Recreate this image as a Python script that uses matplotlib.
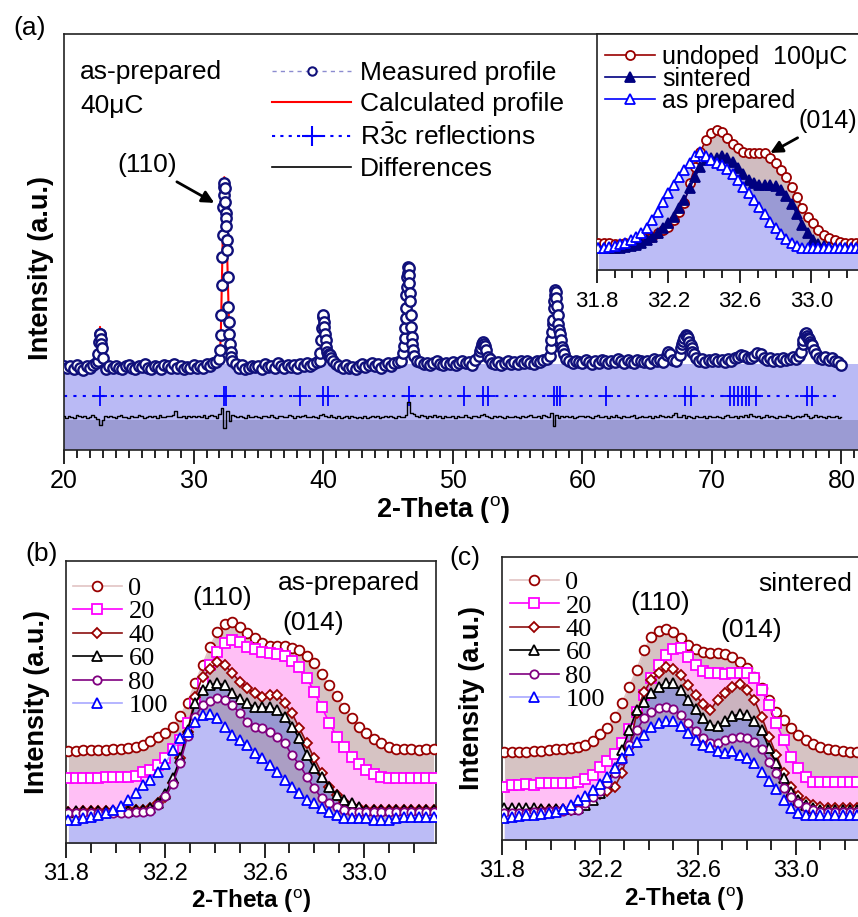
import numpy as np
import matplotlib.pyplot as plt
from matplotlib.lines import Line2D
from matplotlib.ticker import MultipleLocator, FixedLocator

plt.rcParams['font.family'] = ['Liberation Sans', 'DejaVu Sans']
plt.rcParams['mathtext.fontset'] = 'custom'
plt.rcParams['mathtext.rm'] = 'Liberation Sans'
plt.rcParams['mathtext.it'] = 'Liberation Sans:italic'
plt.rcParams['mathtext.bf'] = 'Liberation Sans:bold'

# ---------------- (a) full pattern, as-prepared 40 uC ----------------
# coarse scan, every 0.25 deg from 20 to 80 (intensity in a.u.)
coarse_start, coarse_step = 20.0, 0.25
coarse_int = [
    20.3, 19.6, 20.1, 19.4, 20.4, 19.8, 19.3, 20.2, 19.7, 20.5, 20.9, 27.9, 22.0, 19.5, 20.2, 19.6, 20.3, 19.8, 19.4, 20.1,
    20.5, 19.7, 19.5, 20.3, 19.9, 20.6, 19.6, 19.4, 20.2, 20.0, 19.5, 20.4, 20.1, 19.6, 20.7, 19.8, 20.3, 19.5, 20.0, 19.7,
    20.4, 19.6, 20.1, 19.8, 20.6, 20.3, 20.9, 21.2, 21.8, 51.6, 55.8, 28.0, 21.5, 20.7, 19.8, 20.4, 19.4, 19.7, 20.3, 19.9,
    20.2, 19.5, 20.6, 19.9, 20.3, 19.6, 20.8, 20.1, 19.7, 20.5, 19.9, 20.4, 19.8, 20.6, 20.2, 20.9, 20.3, 20.7, 21.2, 21.5,
    32.5, 24.8, 22.9, 21.3, 20.6, 20.1, 19.8, 20.4, 19.6, 20.0, 19.5, 20.3, 20.7, 19.9, 20.4, 21.0, 20.2, 20.6, 19.8, 20.5,
    20.9, 20.3, 20.8, 21.1, 21.4, 25.0, 41.7, 32.5, 22.5, 21.4, 21.2, 20.6, 21.0, 20.4, 20.9, 21.3, 20.7, 20.5, 21.0, 20.6,
    21.2, 20.5, 20.9, 21.4, 20.8, 21.1, 20.4, 21.6, 22.5, 25.6, 25.0, 22.4, 21.0, 20.6, 21.2, 20.5, 20.9, 21.3, 20.7, 21.1,
    20.6, 21.3, 20.9, 21.5, 21.0, 20.7, 21.4, 21.1, 21.6, 21.9, 22.6, 31.2, 36.5, 27.9, 24.0, 21.8, 21.3, 20.8, 21.5, 21.1,
    20.9, 21.6, 21.2, 20.7, 21.4, 21.0, 21.7, 21.3, 20.8, 21.5, 21.1, 21.8, 21.3, 20.9, 21.6, 21.2, 21.0, 21.7, 21.4, 21.1,
    21.5, 21.0, 21.8, 21.3, 21.7, 21.2, 22.8, 23.0, 21.6, 21.5, 22.8, 26.2, 27.6, 26.0, 23.6, 22.0, 21.4, 21.8, 21.2, 21.6,
    21.3, 21.9, 21.4, 21.7, 21.2, 21.8, 21.5, 22.0, 22.4, 22.9, 22.7, 22.2, 22.0, 22.6, 23.4, 23.0, 22.1, 21.6, 22.0, 21.5,
    21.8, 21.4, 22.1, 21.7, 21.9, 22.3, 21.8, 22.5, 25.5, 28.1, 26.8, 25.3, 23.0, 22.2, 21.8, 22.3, 21.6, 22.0, 21.4, 21.1,
    20.4,
]
# extra finely stepped points across the reflections
fine_tt = [22.6, 22.65, 22.7, 22.8, 22.85, 22.88, 22.92,
           32.06, 32.1, 32.14, 32.18, 32.22, 32.29, 32.32, 32.35, 32.38, 32.41, 32.44, 32.48, 32.53, 32.57,
           32.6, 32.64, 32.68, 32.72, 32.8, 32.85, 32.9,
           39.78, 39.84, 39.9, 39.95, 40.05, 40.1, 40.15, 40.2, 40.32, 40.4, 40.45, 40.58,
           46.18, 46.28, 46.32, 46.36, 46.4, 46.43, 46.46, 46.53, 46.56, 46.59, 46.62, 46.65, 46.68, 46.71,
           46.78, 46.82, 46.86, 46.92,
           52.1, 52.15, 52.35, 52.45, 52.6, 52.85,
           57.55, 57.62, 57.67, 57.72, 57.8, 57.84, 57.88, 57.92, 57.96, 58.05, 58.1, 58.15, 58.2, 58.32, 58.4, 58.6,
           66.6, 67.6, 67.7, 67.85, 68.1, 68.15, 68.35, 68.45, 68.6,
           76.9, 77.05, 77.15, 77.35, 77.45, 77.6, 77.65, 77.85]
fine_int = [21.5, 23.0, 26.0, 27.8, 26.8, 25.6, 24.4,
            24.0, 27.6, 32.5, 39.7, 46.5, 58.5, 61.3, 63.3, 64.1, 62.9, 59.7, 56.9, 53.9, 50.5,
            48.1, 41.7, 34.4, 30.8, 25.6, 23.6, 22.4,
            23.2, 26.4, 29.3, 32.0, 30.8, 29.6, 28.0, 26.4, 23.5, 22.8, 23.0, 22.0,
            23.2, 26.9, 29.3, 31.7, 34.1, 37.3, 39.3, 42.5, 44.1, 43.7, 42.1, 40.1, 37.7, 35.7,
            29.6, 27.2, 25.6, 24.0,
            23.8, 24.5, 26.0, 25.5, 24.0, 21.8,
            24.4, 26.4, 28.4, 30.4, 34.1, 35.7, 37.3, 38.5, 38.0, 34.5, 32.5, 30.4, 28.8, 26.4, 24.8, 23.0,
            23.5, 24.5, 25.5, 27.0, 27.4, 27.0, 25.2, 24.4, 23.0,
            23.5, 26.5, 27.8, 27.5, 26.9, 26.0, 25.6, 24.0]

calc_tt = [20.0, 22.5, 22.65, 22.78, 22.9, 23.1, 26.0, 29.0, 31.9, 32.0, 32.1, 32.2, 32.3, 32.37, 32.45,
           32.55, 32.65, 32.75, 32.85, 33.0, 36.0, 39.6, 39.8, 39.97, 40.05, 40.2, 40.4, 40.5, 40.7,
           43.0, 46.0, 46.2, 46.35, 46.5, 46.57, 46.65, 46.8, 46.95, 47.1, 47.3, 50.0, 51.8, 52.1, 52.3,
           52.5, 52.7, 53.0, 55.0, 57.3, 57.6, 57.8, 57.93, 58.1, 58.3, 58.5, 58.8, 59.0, 63.0, 66.3,
           66.6, 66.9, 67.2, 67.6, 67.95, 68.3, 68.7, 69.0, 72.3, 72.6, 73.0, 73.5, 74.0, 76.7, 77.0,
           77.25, 77.5, 77.7, 78.0, 78.4, 80.0]
calc_int = [20.0, 20.1, 22.5, 29.6, 24.5, 20.2, 20.2, 20.3, 20.5, 21.5, 27.5, 43.0, 60.0, 65.6, 60.0,
            52.0, 40.0, 28.5, 23.0, 20.6, 20.4, 20.5, 24.0, 33.2, 31.5, 26.5, 23.0, 23.0, 20.7,
            20.5, 20.8, 23.0, 30.0, 42.0, 44.8, 41.0, 29.0, 23.5, 21.3, 20.8, 20.9, 21.0, 23.5, 26.2,
            25.2, 22.8, 21.0, 21.0, 21.2, 25.0, 34.0, 39.0, 32.5, 27.0, 24.0, 21.8, 21.3, 21.3, 21.4,
            22.8, 21.5, 21.5, 23.8, 28.0, 25.5, 22.2, 21.5, 22.6, 22.8, 22.0, 23.2, 21.8, 21.9, 25.2,
            28.9, 26.6, 25.5, 22.6, 21.9, 21.2]

# difference curve (offset), every 0.2 deg
diff_start, diff_step = 20.0, 0.2
diff_int = [
    8.1, 7.8, 8.2, 8.0, 7.7, 8.3, 8.1, 7.9, 8.2, 7.8, 8.0, 8.4, 7.9, 7.4, 6.0, 7.2, 8.1, 7.9, 8.2, 8.0, 7.7, 8.1, 8.3, 7.9, 8.0,
    7.8, 8.2, 8.0, 7.9, 8.3, 8.1, 7.7, 8.0, 8.2, 7.9, 8.1, 7.8, 8.3, 8.0, 7.9, 8.2, 8.1, 8.3, 9.4, 7.9, 8.0, 8.2, 7.8, 8.1, 8.0,
    8.1, 7.9, 8.2, 8.0, 8.3, 7.8, 8.1, 8.4, 8.2, 7.6, 8.6, 10.2, 5.3, 9.3, 7.0, 8.3, 8.2, 7.9, 8.1, 8.0, 7.8, 8.3, 8.0, 7.9, 8.2,
    8.0, 7.8, 8.2, 8.1, 7.9, 8.3, 8.0, 7.7, 8.1, 8.2, 7.9, 8.0, 8.4, 8.1, 7.8, 8.2, 7.9, 8.1, 8.3, 8.0, 7.9, 8.2, 8.0, 7.8, 8.4,
    8.6, 8.1, 7.9, 8.3, 8.0, 7.8, 8.2, 7.7, 8.0, 8.1, 7.8, 8.2, 7.9, 7.6, 8.0, 7.8, 8.1, 7.7, 8.0, 8.2, 7.9, 8.1, 7.8, 8.0, 8.2,
    7.9, 8.1, 8.0, 7.8, 8.2, 8.0, 7.9, 8.4, 11.5, 9.0, 8.6, 8.2, 7.9, 8.3, 8.1, 7.8, 8.2, 8.0, 8.3, 7.9, 8.1, 7.8, 8.2, 8.0, 7.9,
    8.1, 7.8, 8.2, 8.0, 7.9, 8.3, 8.0, 7.8, 8.2, 8.1, 7.9, 8.4, 8.7, 8.1, 8.0, 7.8, 8.2, 7.9, 8.1, 8.0, 7.8, 8.2, 8.0, 7.9, 8.1,
    8.0, 7.8, 8.2, 7.9, 8.1, 8.3, 7.9, 8.0, 8.2, 7.8, 8.4, 8.2, 8.0, 8.9, 5.8, 8.3, 7.7, 8.1, 8.0, 8.2, 7.9, 8.1, 7.8, 8.0, 8.2,
    8.1, 7.9, 8.2, 8.0, 7.8, 8.1, 8.3, 7.9, 8.0, 8.2, 7.8, 8.1, 7.9, 8.3, 8.0, 7.8, 8.2, 8.0, 7.9, 8.1, 8.3, 7.8, 8.0, 8.2, 7.9,
    8.0, 8.2, 7.8, 8.1, 8.0, 8.3, 8.1, 7.9, 8.2, 8.0, 8.4, 8.8, 8.0, 7.9, 8.3, 7.7, 8.1, 8.0, 7.8, 8.2, 8.0, 7.9, 8.1, 7.8, 8.2,
    8.0, 7.9, 8.2, 8.0, 7.7, 8.1, 8.3, 7.9, 8.0, 8.2, 7.8, 8.1, 7.9, 8.3, 8.0, 8.7, 8.2, 7.9, 8.1, 7.8, 8.0, 8.3, 7.9, 8.1, 8.0,
    7.8, 8.2, 8.0, 7.9, 8.3, 8.1, 7.8, 8.0, 8.2, 7.9, 8.1, 8.7, 8.2, 7.8, 8.0, 8.3, 7.9, 8.1, 8.0, 7.8, 8.2, 8.0, 7.9, 8.1, 7.8,
    8.0,
]

refl_tt = [22.8, 32.38, 32.5, 38.2, 40.0, 40.4, 46.6, 50.85, 52.35, 52.7, 57.8, 58.05, 58.3, 61.85,
           67.9, 68.4, 71.4, 71.7, 72.0, 72.3, 72.6, 72.9, 73.4, 77.35, 77.7]
refl_level = 13.0
bg_level_light = 20.6
bg_level_dark = 7.2

legend_a = ['Measured profile', 'Calculated profile', r'$\mathrm{R\bar{3}c}$ reflections', 'Differences']

# ---------------- inset: 100 uC (110)/(014) region ----------------
zoom_start, zoom_step = 31.81, 0.03
inset_labels = ['undoped  100\u03bcC', 'sintered', 'as prepared']
inset_undoped = [11.3, 11.3, 11.3, 11.0, 11.0, 11.3, 11.6, 12.0, 12.7, 13.4,
                 14.1, 15.5, 16.9, 18.4, 21.2, 24.7, 28.2, 36.7, 43.8, 50.1,
                 55.1, 57.9, 59.3, 58.6, 55.8, 53.4, 51.6, 50.1, 49.7, 49.7,
                 49.7, 49.4, 47.3, 45.2, 42.4, 39.5, 35.3, 31.1, 26.1, 22.6,
                 19.8, 16.9, 14.8, 13.4, 12.7, 12.0, 11.6, 11.3, 11.3, 11.3]
inset_sintered = [9.2, 9.2, 9.2, 9.2, 9.4, 9.6, 10.0, 10.6, 11.3, 12.7,
                  14.1, 15.5, 17.7, 19.8, 22.6, 26.1, 29.7, 34.6, 39.5, 43.8,
                  46.6, 47.3, 47.6, 48.3, 47.3, 45.6, 43.1, 40.6, 38.1, 36.7,
                  36.0, 36.2, 36.2, 35.5, 33.9, 31.5, 27.9, 23.6, 19.1, 15.5,
                  12.7, 11.0, 10.2, 9.6, 9.2, 9.2, 9.2, 9.2, 9.2, 9.2]
inset_asprep = [9.2, 9.2, 9.6, 10.2, 10.9, 11.6, 12.7, 14.1, 15.8, 18.0,
                21.2, 24.7, 28.9, 32.5, 36.0, 39.5, 42.4, 45.2, 48.3, 50.1,
                48.3, 46.6, 45.2, 44.5, 42.7, 40.6, 38.1, 35.3, 32.5, 29.7,
                26.8, 23.6, 20.5, 17.7, 15.2, 13.0, 11.3, 10.2, 9.2, 9.2,
                9.2, 9.2, 9.2, 9.2, 9.2, 9.2, 9.2, 9.2, 9.2, 9.2]

# ---------------- (b) as-prepared, (c) sintered: dopant content ----------------
dopant = ['0', '20', '40', '60', '80', '100']
b_series = [
    [32.7, 32.8, 32.9, 33.0, 33.0, 33.1, 33.2, 33.4, 33.7, 34.1, 34.7, 36.0, 37.7, 39.1, 41.2, 45.1, 49.8, 56.6, 63.1, 69.6,
     74.9, 77.7, 78.5, 76.7, 74.6, 72.6, 70.8, 69.9, 69.9, 69.9, 69.3, 68.4, 66.4, 63.7, 59.9, 56.0, 52.1, 47.8, 44.2, 41.2,
     39.1, 36.8, 35.3, 33.9, 33.4, 33.2, 33.2, 33.1, 33.2, 33.2],
    [22.9, 22.9, 22.9, 22.9, 22.9, 23.3, 23.5, 23.5, 23.5, 23.8, 25.3, 26.0, 27.7, 30.0, 33.2, 36.5, 42.4, 49.5, 56.6, 63.1,
     67.8, 71.0, 72.0, 71.4, 69.4, 68.7, 67.8, 67.3, 67.1, 66.3, 64.6, 62.5, 58.4, 53.7, 48.1, 42.7, 37.7, 33.9, 30.6, 28.0,
     25.9, 24.5, 23.5, 23.0, 22.9, 22.9, 22.9, 22.9, 22.9, 22.9],
    [11.1, 11.1, 11.3, 11.3, 11.4, 11.4, 11.5, 11.6, 11.6, 11.7, 11.7, 12.3, 14.1, 16.4, 21.2, 30.0, 39.5, 51.9, 59.0, 61.6,
     64.3, 63.1, 60.2, 57.2, 54.9, 53.1, 51.9, 52.5, 52.5, 49.5, 46.0, 40.7, 35.4, 30.0, 24.7, 20.0, 17.0, 14.6, 13.1, 12.3,
     11.7, 11.7, 11.6, 11.7, 11.7, 11.6, 11.7, 11.7, 11.7, 11.7],
    [11.1, 11.2, 11.2, 11.3, 11.3, 11.4, 11.4, 11.5, 11.5, 11.6, 11.7, 12.5, 14.1, 17.5, 22.9, 30.0, 40.0, 49.5, 54.3, 56.0,
     56.6, 56.0, 53.1, 51.0, 49.5, 48.2, 48.2, 48.2, 47.2, 44.8, 41.2, 37.1, 31.2, 26.5, 23.5, 20.0, 17.0, 15.2, 14.1, 12.9,
     11.7, 11.7, 11.6, 11.7, 11.7, 11.7, 11.7, 11.7, 11.7, 11.7],
    [10.5, 10.5, 10.5, 10.6, 10.6, 10.7, 10.7, 10.8, 10.8, 10.9, 11.0, 11.5, 13.5, 16.5, 21.0, 28.5, 38.0, 44.8, 48.9, 50.5,
     51.3, 50.7, 48.9, 46.0, 43.0, 41.2, 40.7, 39.5, 37.7, 35.4, 31.2, 27.7, 23.5, 19.4, 15.8, 14.1, 12.9, 11.7, 11.1, 11.1,
     11.1, 11.0, 11.0, 11.1, 11.1, 11.1, 11.0, 11.1, 11.1, 11.1],
    [8.2, 8.2, 8.7, 9.3, 9.9, 10.5, 11.7, 13.1, 15.2, 17.6, 20.6, 22.3, 25.3, 28.0, 33.0, 37.1, 39.5, 43.0, 45.4, 45.9,
     44.2, 41.2, 38.3, 36.5, 34.8, 31.8, 30.0, 27.7, 25.3, 22.3, 19.7, 17.6, 15.2, 14.1, 12.3, 11.1, 9.9, 8.7, 8.7, 8.7,
     8.7, 8.2, 8.2, 8.2, 8.7, 9.3, 9.3, 9.3, 9.3, 9.3],
]
c_series = [
    [31.2, 31.2, 31.2, 31.2, 31.4, 31.6, 31.8, 32.0, 32.3, 32.5, 32.8, 33.6, 35.1, 37.5, 39.5, 43.6, 48.3, 54.2, 60.1, 67.1,
     71.8, 74.0, 74.5, 73.6, 71.3, 68.9, 67.4, 66.5, 66.2, 66.2, 65.9, 64.8, 63.0, 60.7, 57.7, 53.6, 49.5, 45.3, 42.4, 39.5,
     37.1, 35.3, 33.9, 32.8, 32.0, 31.8, 31.4, 31.2, 31.2, 31.2],
    [18.8, 19.4, 19.6, 19.8, 19.4, 20.0, 20.3, 20.0, 20.3, 20.3, 20.6, 21.5, 23.0, 25.9, 28.0, 30.4, 34.2, 39.1, 45.3, 51.2,
     57.1, 61.8, 65.4, 67.4, 67.7, 64.8, 61.8, 59.8, 58.9, 58.9, 58.7, 59.1, 58.9, 58.9, 57.1, 53.0, 47.7, 41.2, 35.3, 29.4,
     25.3, 22.4, 20.6, 20.6, 20.6, 20.6, 20.6, 20.6, 20.6, 20.6],
    [10.0, 10.0, 10.2, 10.3, 10.4, 10.5, 10.6, 10.6, 10.6, 10.6, 11.8, 13.5, 15.3, 16.3, 17.2, 18.8, 23.6, 33.0, 44.8, 52.4,
     56.5, 59.1, 61.2, 60.3, 58.3, 54.8, 51.2, 48.1, 45.9, 49.5, 52.0, 54.2, 55.1, 53.0, 49.5, 43.6, 36.5, 30.0, 23.6, 18.8,
     15.5, 13.5, 12.4, 11.8, 11.2, 11.2, 11.2, 11.2, 11.2, 11.2],
    [11.2, 11.2, 11.2, 11.2, 11.2, 11.0, 10.8, 10.8, 10.8, 11.0, 11.2, 12.4, 14.1, 16.5, 20.6, 25.3, 31.8, 38.9, 45.9, 48.9,
     51.8, 54.2, 55.6, 55.4, 53.0, 49.5, 46.2, 43.0, 40.6, 40.3, 42.2, 43.8, 44.5, 44.2, 42.2, 38.9, 32.4, 27.1, 21.8, 17.1,
     14.1, 12.4, 11.2, 10.6, 10.6, 10.6, 10.6, 10.6, 10.6, 10.6],
    [9.4, 9.4, 9.4, 9.6, 9.8, 10.0, 10.2, 10.3, 10.4, 10.5, 10.6, 13.0, 15.1, 17.4, 20.0, 23.6, 28.3, 33.6, 38.9, 43.0,
     45.3, 46.5, 47.1, 46.2, 44.2, 41.2, 38.6, 35.9, 34.2, 34.2, 35.3, 36.1, 36.5, 36.1, 34.7, 32.0, 27.7, 23.6, 18.3, 15.1,
     13.0, 11.8, 10.6, 10.0, 10.0, 10.0, 10.0, 10.0, 10.0, 10.0],
    [7.7, 8.2, 8.4, 8.7, 9.0, 9.1, 9.5, 10.0, 11.0, 12.2, 14.0, 15.5, 17.7, 19.8, 22.4, 25.3, 28.9, 31.8, 34.7, 37.1,
     40.0, 41.4, 42.2, 42.2, 40.3, 37.9, 35.3, 33.6, 32.8, 31.6, 30.9, 31.3, 30.0, 28.9, 27.1, 24.1, 21.0, 17.9, 14.1, 11.2,
     9.4, 8.8, 8.8, 8.8, 8.8, 8.8, 8.8, 8.8, 8.8, 8.8],
]
zoom_ticks = [31.8, 32.2, 32.6, 33.0]

# styles for the six dopant levels
line_cols = ['#e2c4c4', '#ff00ff', '#8b1010', 'black', '#800080', '#a8a8ff']
edge_cols = ['#990000', '#ff00ff', '#990000', 'black', '#800080', '#0000ff']
fill_cols = ['#d6c3c3', '#ffbff5', '#cbb3bf', '#9898d2', '#ab9ec4', '#bcbcf6']
mkrs = ['o', 's', 'D', '^', 'o', '^']
msizes = [7, 6.5, 5.5, 7.5, 6, 7.5]

navy = '#10107a'

W, H = 858, 917
fig = plt.figure(figsize=(W / 100, H / 100), dpi=100)


def box(l, t, r, b):
    return [l / W, 1 - b / H, (r - l) / W, (b - t) / H]


def fpx(x, y):
    return x / W, 1 - y / H


def style_axes(ax, labelsize=18, major=10, minor=6, pad=4):
    for s in ax.spines.values():
        s.set_linewidth(1.2)
        s.set_color('#222222')
    ax.tick_params(axis='x', which='major', direction='out', length=major, width=1.2,
                   labelsize=labelsize, pad=pad)
    ax.tick_params(axis='x', which='minor', direction='out', length=minor, width=1.2)
    ax.tick_params(axis='y', which='both', left=False, labelleft=False)


# ---------- panel (a) ----------
ax = fig.add_axes(box(64, 34, 870, 450))
ax.axhspan(0, bg_level_light, color='#babaf5', lw=0, zorder=0)
ax.axhspan(0, bg_level_dark, color='#9b9bd3', lw=0, zorder=0.5)

coarse_tt = coarse_start + coarse_step * np.arange(len(coarse_int))
meas_tt = np.concatenate([coarse_tt, fine_tt])
meas_int = np.concatenate([coarse_int, fine_int])
order = np.argsort(meas_tt)
diff_tt = diff_start + diff_step * np.arange(len(diff_int))

ax.plot(calc_tt, calc_int, color='red', lw=1.5, zorder=2)
ax.plot(meas_tt[order], meas_int[order], ls='none', marker='o', ms=7.5, mfc='white',
        mec=navy, mew=1.7, zorder=3)
ax.plot([meas_tt.min(), meas_tt.max()], [refl_level, refl_level], color='blue',
        ls=(0, (1.5, 3)), lw=1.5, zorder=2)
ax.plot(refl_tt, [refl_level] * len(refl_tt), ls='none', marker='|', ms=14, mew=1.3,
        color='blue', zorder=3)
ax.plot(refl_tt, [refl_level] * len(refl_tt), ls='none', marker='_', ms=10, mew=1.3,
        color='blue', zorder=3)
ax.plot(diff_tt, diff_int, color='black', lw=1, drawstyle='steps-mid', zorder=3)

ax.set_xlim(20, 82.2)
ax.set_ylim(0, 100)
ax.xaxis.set_major_locator(MultipleLocator(10))
ax.xaxis.set_minor_locator(MultipleLocator(1))
style_axes(ax)
ax.set_xlabel('2-Theta ($^\\mathrm{o}$)', fontsize=19.5, fontweight='bold')
ax.xaxis.set_label_coords(0.47, -0.105)
ax.set_ylabel('Intensity (a.u.)', fontsize=19.5, fontweight='bold')
ax.yaxis.set_label_coords(-0.012, 0.4375)

handles_a = [
    Line2D([], [], ls=(0, (3, 3)), color='#8c8cd0', lw=1, marker='o', ms=6, mfc='white', mec=navy, mew=1.5),
    Line2D([], [], color='red', lw=1.5),
    Line2D([], [], ls=(0, (1.5, 2.5)), color='blue', lw=1.5, marker='+', ms=14, mew=1.5),
    Line2D([], [], color='black', lw=1.2),
]
ax.legend(handles_a, legend_a, loc='upper left', bbox_to_anchor=(0.258, 0.935), frameon=False,
          fontsize=19, handlelength=3.0, handletextpad=0.35, labelspacing=0.27,
          borderpad=0, borderaxespad=0)

fig.text(*fpx(80, 79), 'as-prepared', fontsize=19, va='baseline')
fig.text(*fpx(80, 113), '40\u03bcC', fontsize=19, va='baseline')
fig.text(*fpx(30, 28), '(a)', fontsize=19, ha='center', va='center')
ax.annotate('(110)', xy=(31.6, 59.4), xytext=(147, H - 165), textcoords='figure pixels',
            ha='center', va='center', fontsize=19,
            arrowprops=dict(arrowstyle='-|>', color='black', lw=2, mutation_scale=18,
                            shrinkA=3, shrinkB=0))

# ---------- inset ----------
axi = fig.add_axes(box(596.7, 34, 865, 270))
axi.set_facecolor('white')
zt = zoom_start + zoom_step * np.arange(len(inset_undoped))
inset_data = [inset_undoped, inset_sintered, inset_asprep]
inset_fill = ['#d0bcc0', '#9a9ad4', '#bcbcf6']
inset_line = ['#990000', '#000080', '#0000ff']
inset_mkr = ['o', '^', '^']
inset_mfc = ['white', '#000080', 'white']
inset_ms = [6.5, 7, 7]
for y, fc in zip(inset_data, inset_fill):
    axi.fill_between(zt, 0, y, color=fc, lw=0, zorder=1)
ins_handles = []
for y, lc, mk, mf, ms in zip(inset_data, inset_line, inset_mkr, inset_mfc, inset_ms):
    h, = axi.plot(zt, y, color=lc, lw=1.2, marker=mk, ms=ms, mfc=mf, mec=lc, mew=1.3, zorder=3)
    ins_handles.append(h)
axi.set_xlim(31.8, 33.3)
axi.set_ylim(0, 100)
axi.xaxis.set_major_locator(FixedLocator(zoom_ticks))
axi.set_xticklabels([f'{t:.1f}' for t in zoom_ticks])
axi.xaxis.set_minor_locator(MultipleLocator(0.1))
style_axes(axi, labelsize=16, major=9, minor=6, pad=6)
axi.legend(ins_handles, inset_labels, loc='upper left', bbox_to_anchor=(0.03, 0.955),
           frameon=False, fontsize=18, handlelength=2.0, handletextpad=0.3, labelspacing=-0.07,
           borderpad=0, borderaxespad=0)
axi.annotate('(014)', xy=(32.77, 49.6), xytext=(828, H - 121), textcoords='figure pixels',
             ha='center', va='center', fontsize=18,
             arrowprops=dict(arrowstyle='-|>', color='black', lw=2, mutation_scale=18,
                             shrinkA=3, shrinkB=0))


# ---------- panels (b), (c) ----------
def dopant_panel(rect, series, title, title_xy, peak110_xy, peak014_xy, tag, tag_xy,
                 leg_anchor, xlabel_y):
    axp = fig.add_axes(rect)
    xt = zoom_start + zoom_step * np.arange(len(series[0]))
    for y, fc in zip(series, fill_cols):
        axp.fill_between(xt, 0, y, color=fc, lw=0, zorder=1)
    handles = []
    for y, lc, ec, mk, ms in zip(series, line_cols, edge_cols, mkrs, msizes):
        h, = axp.plot(xt, y, color=lc, lw=1.2, marker=mk, ms=ms, mfc='white', mec=ec,
                      mew=1.3, zorder=3)
        handles.append(h)
    axp.set_xlim(31.8, 33.29)
    axp.set_ylim(0, 100)
    axp.xaxis.set_major_locator(FixedLocator(zoom_ticks))
    axp.set_xticklabels([f'{t:.1f}' for t in zoom_ticks])
    axp.xaxis.set_minor_locator(MultipleLocator(0.1))
    style_axes(axp, labelsize=17, major=11, minor=7, pad=3.5)
    axp.set_xlabel('2-Theta ($^\\mathrm{o}$)', fontsize=17.5, fontweight='bold')
    axp.xaxis.set_label_coords(0.5, xlabel_y)
    axp.set_ylabel('Intensity (a.u.)', fontsize=19.5, fontweight='bold')
    axp.legend(handles, dopant, loc='upper left', bbox_to_anchor=leg_anchor, frameon=False,
               prop={'family': 'Liberation Serif', 'size': 19}, handlelength=1.85,
               handletextpad=0.25, labelspacing=0.0, borderpad=0, borderaxespad=0)
    fig.text(*fpx(*title_xy), title, fontsize=19, va='baseline')
    fig.text(*fpx(*peak110_xy), '(110)', fontsize=19, ha='center', va='center')
    fig.text(*fpx(*peak014_xy), '(014)', fontsize=19, ha='center', va='center')
    fig.text(*fpx(*tag_xy), tag, fontsize=19, ha='center', va='center')
    return axp


axb = dopant_panel(box(66, 561, 436, 843), b_series, 'as-prepared', (278, 590),
                   (222, 598), (313, 623), '(b)', (42, 554), (0.019, 0.945), -0.16)
axb.yaxis.set_label_coords(-0.043, 0.5)
axc = dopant_panel(box(502, 557, 867, 840), c_series, 'sintered', (758, 591),
                   (660, 603), (751, 630), '(c)', (465, 558), (0.022, 0.952), -0.163)
axc.yaxis.set_label_coords(-0.047, 0.5)

fig.savefig('out.png', dpi=100)
